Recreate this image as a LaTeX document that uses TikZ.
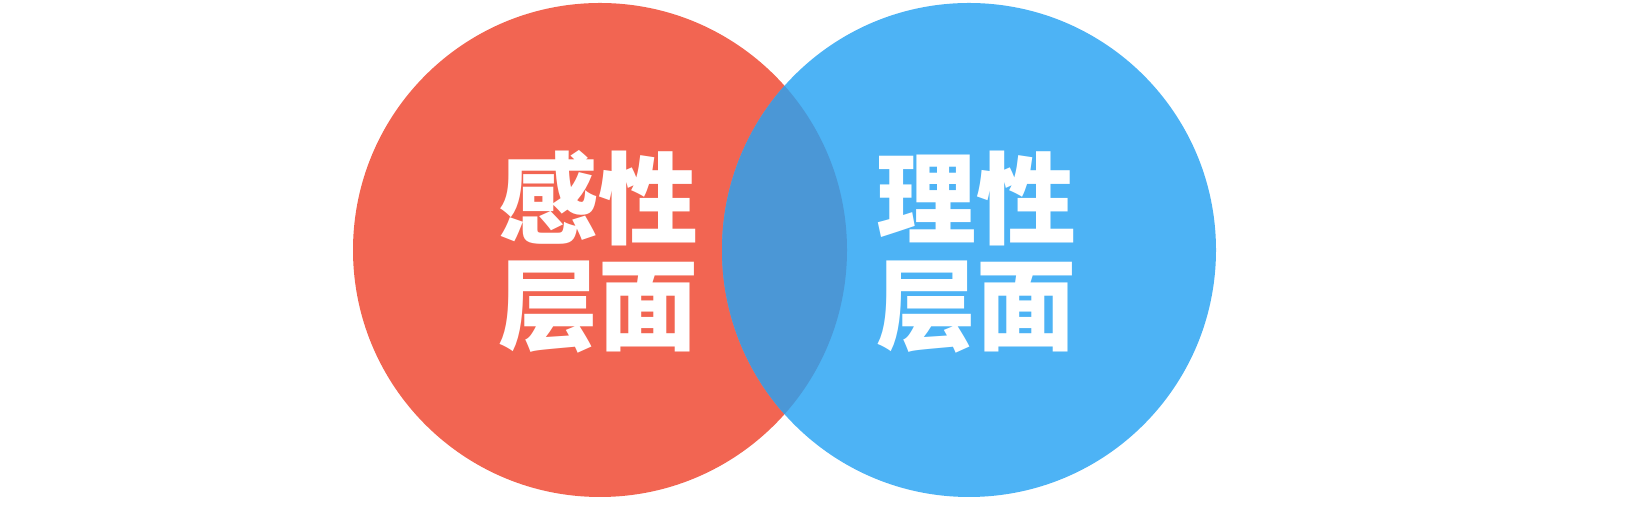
\documentclass[tikz,border=0pt]{standalone}
\usepackage{fontspec}
\newfontfamily\cjk{Noto Sans CJK SC}
\definecolor{cred}{HTML}{F26552}
\definecolor{cblue}{HTML}{4DB3F5}
\definecolor{cmix}{HTML}{4B97D6}
\begin{document}
\begin{tikzpicture}[x=1pt,y=1pt,
  lbl/.style={text=white,font=\cjk\fontsize{100}{106}\selectfont\bfseries,align=center,inner sep=0pt}]
\useasboundingbox (0,0) rectangle (1626,518);
\fill[cred] (600,268) circle (247);
\fill[cblue] (969,268) circle (247);
\begin{scope}
  \clip (600,268) circle (247);
  \fill[cmix] (969,268) circle (247);
\end{scope}
\node[lbl] (left) at (598,266) {感性\\层面};
\node[lbl] (right) at (976,266) {理性\\层面};
\end{tikzpicture}
\end{document}
